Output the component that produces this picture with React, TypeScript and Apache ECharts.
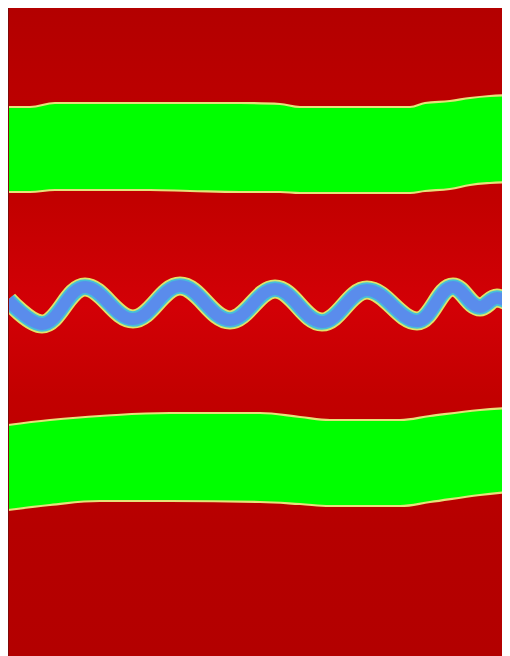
import React, { useEffect, useRef } from "react";
import * as echarts from "echarts";

// Upper green band: edge depths along the section
const band1X = [0, 22, 47, 92, 142, 182, 232, 272, 292, 342, 402, 417, 442, 462, 482, 502];
const band1Top = [99, 99, 95, 95, 95, 95, 95, 96, 99, 99, 99, 95, 93, 90, 88, 87];
const band1Bottom = [184, 184, 182, 182, 182, 183, 184, 184, 185, 185, 185, 183, 181, 177, 175, 174];

// Lower green band
const band2X = [0, 42, 92, 162, 252, 292, 322, 392, 422, 472, 502];
const band2Top = [417, 412, 408, 405, 405, 409, 412, 412, 408, 402, 400];
const band2Bottom = [502, 497, 493, 493, 494, 496, 498, 498, 494, 487, 484];

// Wavy interface (crests and troughs)
const waveX = [0, 34, 77, 125, 172, 222, 267, 314, 359, 409, 445, 472, 489, 502];
const waveY = [292, 316, 279, 311, 278, 312, 281, 314, 282, 313, 279, 299, 290, 295];

const X_MAX = 502;
const Y_MAX = 648;

const EDGE = "#e6e27a";
const GREEN = "#00ff00";

const RED_STOPS = [
  { offset: 0, color: "#b30000" },
  { offset: 0.12, color: "#ba0000" },
  { offset: 0.3, color: "#c20000" },
  { offset: 0.46, color: "#d30006" },
  { offset: 0.6, color: "#c20000" },
  { offset: 0.8, color: "#b60000" },
  { offset: 1, color: "#b30000" },
];

// Same vertical gradient for the grid background and the red covers
const redFill = () => new echarts.graphic.LinearGradient(0, 0, 0, Y_MAX, RED_STOPS, true);

function pairs(xs: number[], ys: number[]) {
  return xs.map((x, i) => [x, ys[i]]);
}

function edgeArea(xs: number[], ys: number[], fill: any, origin: string, z: number) {
  return {
    type: "line",
    data: pairs(xs, ys),
    smooth: 0.4,
    showSymbol: false,
    symbol: "none",
    z,
    lineStyle: { color: EDGE, width: 2.2 },
    areaStyle: { color: fill, opacity: 1, origin },
  };
}

function waveLayer(width: number, color: string, z: number) {
  return {
    type: "line",
    data: pairs(waveX, waveY),
    smooth: 0.38,
    showSymbol: false,
    symbol: "none",
    z,
    lineStyle: { color, width, cap: "butt", join: "round" },
  };
}

export default function App() {
  const ref = useRef<HTMLDivElement>(null);

  useEffect(() => {
    if (!ref.current) return;
    const chart = echarts.init(ref.current, undefined, { renderer: "svg" });
    chart.setOption({
      animation: false,
      grid: {
        left: 0,
        right: 0,
        top: 0,
        bottom: 0,
        show: true,
        borderWidth: 0,
        backgroundColor: redFill(),
      },
      tooltip: { show: false },
      xAxis: { type: "value", min: 0, max: X_MAX, show: false },
      yAxis: { type: "value", min: 0, max: Y_MAX, inverse: true, show: false },
      series: [
        // upper band: green up from its lower edge, red back down to its upper edge
        {
          ...edgeArea(band1X, band1Bottom, GREEN, "start", 2),
          // dark rim along the left boundary
          markLine: {
            silent: true,
            symbol: "none",
            label: { show: false },
            lineStyle: { color: "#7e0a0a", width: 2, type: "solid" },
            data: [{ xAxis: 0 }],
            z: 9,
          },
        },
        edgeArea(band1X, band1Top, redFill(), "start", 3),
        // lower band: green down from its upper edge, red back up to its lower edge
        edgeArea(band2X, band2Top, GREEN, "end", 2),
        edgeArea(band2X, band2Bottom, redFill(), "end", 3),
        waveLayer(19, "#dfe46a", 5),
        waveLayer(15.5, "#46c0d8", 6),
        waveLayer(12, "#5a8cec", 7),
      ],
    });
    return () => chart.dispose();
  }, []);

  return <div ref={ref} style={{ width: 502, height: 648 }} />;
}
